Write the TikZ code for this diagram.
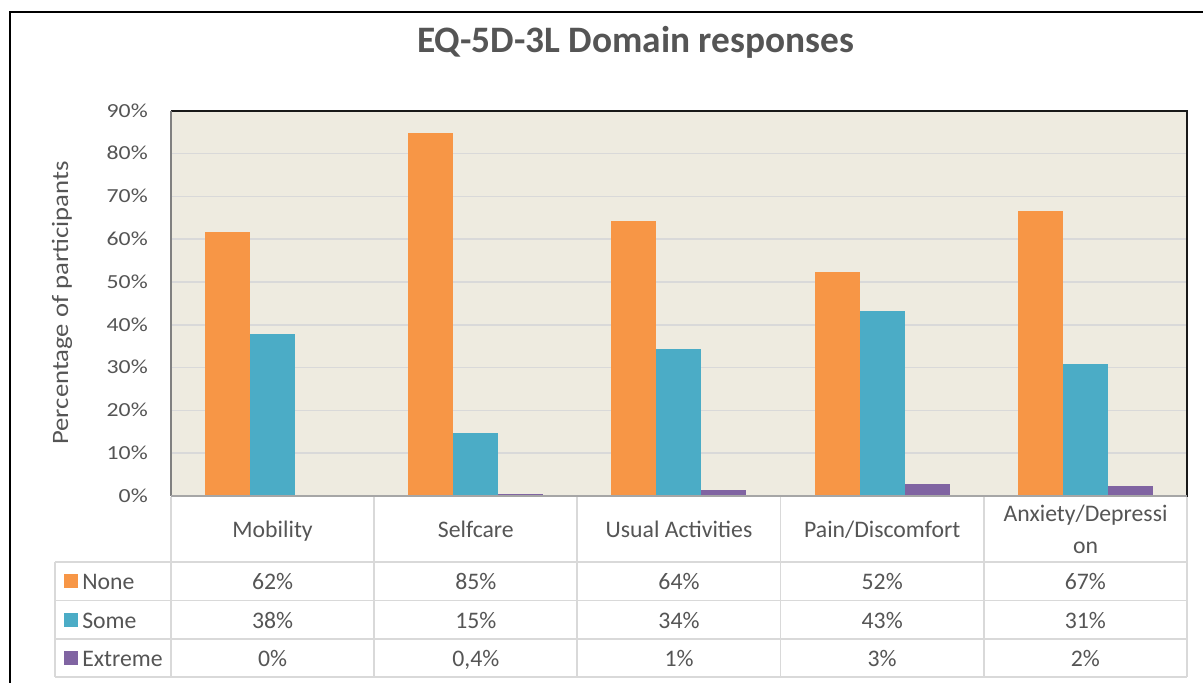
\documentclass[tikz,border=0pt]{standalone}
\usepackage{fontspec}
\setmainfont{Carlito}
\usetikzlibrary{calc}

\definecolor{txt}{HTML}{555555}
\definecolor{plotbg}{HTML}{EEEBE0}
\definecolor{gridc}{HTML}{D9D9D9}
\definecolor{cnone}{HTML}{F79646}
\definecolor{csome}{HTML}{4BACC6}
\definecolor{cext}{HTML}{8064A2}

\tikzset{
  gridline/.style={draw=gridc, line width=1.2pt},
  tabline/.style={draw=gridc, line width=1.1pt},
  ticklab/.style={anchor=base east, inner sep=0pt, text=txt, font=\fontsize{17.8pt}{20pt}\selectfont},
  celltext/.style={anchor=base, inner sep=0pt, text=txt, font=\fontsize{17.8pt}{20pt}\selectfont},
  legsq/.style={minimum size=10.5pt, inner sep=0pt, draw=none},
}

\begin{document}
\begin{tikzpicture}[x=0.75pt, y=-0.75pt]
\useasboundingbox (0,0) rectangle (1203,682);
\clip (0,0) rectangle (1203,682);
\fill[white] (0,0) rectangle (1203,682);

% outer chart frame
\draw[line width=1.6pt] (10,12) rectangle (1230,720);

% title
\node[text=txt, font=\fontsize{28pt}{32pt}\selectfont\bfseries] (title) at (635.5,42) {EQ-5D-3L Domain responses};

% plot area
\fill[plotbg] (171,110.8) rectangle (1187,496);
\foreach \v in {10,20,...,80} {
  \draw[gridline] (171,{496-4.28*\v}) -- (1187,{496-4.28*\v});
}

% bars: none / some / extreme per domain
\foreach \i/\a/\b/\c in {0/61.7/37.9/0, 1/84.8/14.8/0.4, 2/64.3/34.3/1.4, 3/52.3/43.3/2.8, 4/66.7/30.8/2.4} {
  \pgfmathsetmacro{\xl}{171+203.2*\i+34}
  \fill[cnone] (\xl,496) rectangle ({\xl+45},{496-4.28*\a});
  \fill[csome] ({\xl+45},496) rectangle ({\xl+90},{496-4.28*\b});
  \fill[cext] ({\xl+90},496) rectangle ({\xl+135},{496-4.28*\c});
}

% plot area border
\draw[line width=1.3pt, draw=black!90] (171,110.8) -- (1187,110.8) -- (1187,497);
\draw[line width=1.5pt, draw=black!50] (171,110.8) -- (171,496);
\draw[line width=1.1pt, draw=black!35] (171,496) -- (1187,496);

% y-axis tick labels
\foreach \v in {0,10,...,90} {
  \node[ticklab] (tick\v) at (148,{496-4.28*\v+6.3}) {\scalebox{1}[0.84]{\v\%}};
}

% y-axis title
\node[rotate=90, text=txt, inner sep=0pt, font=\fontsize{20pt}{24pt}\selectfont] (ytitle) at (62,303) {\scalebox{1}[0.88]{Percentage of participants}};

% data table grid
\foreach \x in {171,374,577,780.6,984,1187} {
  \draw[tabline] (\x,497) -- (\x,677);
}
\draw[tabline] (55,562) -- (55,677);
\foreach \y in {562,600.5,639,677} {
  \draw[tabline] (55,\y) -- (1187,\y);
}

% column headers
\node[celltext] (h1) at (272.6,537) {Mobility};
\node[celltext] (h2) at (475.8,537) {Selfcare};
\node[celltext] (h3) at (679,537) {Usual Activities};
\node[celltext] (h4) at (882.2,537) {Pain/Discomfort};
\node[celltext] (h5a) at (1085.5,521) {Anxiety/Depressi};
\node[celltext] (h5b) at (1085.5,553) {on};

% legend column
\node[legsq, fill=cnone] (lnone) at (71,581) {};
\node[legsq, fill=csome] (lsome) at (71,620) {};
\node[legsq, fill=cext] (lext) at (71,658) {};
\node[celltext, anchor=base west] (tnone) at (82,589) {None};
\node[celltext, anchor=base west] (tsome) at (82,628) {Some};
\node[celltext, anchor=base west] (text) at (82,666) {Extreme};

% table values
\foreach \i/\a/\b/\c in {0/62\%/38\%/0\%, 1/85\%/15\%/0{,}4\%, 2/64\%/34\%/1\%, 3/52\%/43\%/3\%, 4/67\%/31\%/2\%} {
  \pgfmathsetmacro{\xc}{171+203.2*\i+101.6}
  \node[celltext] (vn\i) at (\xc,589) {\a};
  \node[celltext] (vs\i) at (\xc,628) {\b};
  \node[celltext] (ve\i) at (\xc,666) {\c};
}
\end{tikzpicture}
\end{document}
